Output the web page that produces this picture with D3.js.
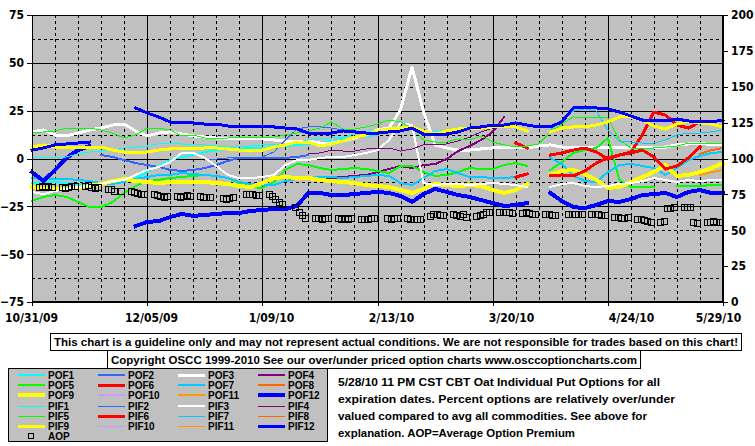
<!DOCTYPE html>
<html><head><meta charset="utf-8">
<script src="https://cdn.jsdelivr.net/npm/d3@7"></script>
<style>
body{margin:0;background:#fff;}
svg text{font-family:"Liberation Sans",Arial,sans-serif;font-weight:bold;fill:#000;}
.ax text{font-family:"Liberation Sans Narrow","DejaVu Sans Condensed","Liberation Sans",sans-serif;font-stretch:condensed;font-size:12px;font-weight:bold;}
</style>
</head><body>
<svg id="c" width="755" height="446"></svg>
<script>
const _ = null;
// x categories: half-week grid, days since 10/31/09
const gridDays = d3.range(61).map(i => i * 3.5);
const xTickLabels = ["10/31/09","12/05/09","1/09/10","2/13/10","3/20/10","4/24/10","5/29/10"];
const xTickDays = [0,35,70,105,140,175,210];
const leftTicks = [-75,-50,-25,0,25,50,75];
const rightTicks = [0,25,50,75,100,125,150,175,200];

const POF1 = [-12.8,-12.3,-12.3,-12.8,-13.3,-13.9,-13.3,-12.3,-12.3,-10.2,-7.1,-3.9,-0.8,0.8,1.8,3.4,4.4,5,5,5.5,5.5,6,6.5,7.1,7.6,8.1,9.1,10.2,11.2,11.8,12.3,_,_,_,_,_,_,_,_,_,_,_,_,_,_,_,_,_,_,_,_,_,_,_,_,_,_,_,_,_,_];
const POF2 = [_,_,_,_,_,_,1.8,0.8,-0.8,-2.4,-3.4,-4.4,-6,-6.5,-6,-5,-3.4,-1.3,0.3,0.3,0.3,0.3,0.3,0.8,1.8,_,_,_,_,_,_,_,_,_,_,_,_,_,_,_,_,_,_,_,_,_,_,_,_,_,_,_,_,_,_,_,_,_,_,_,_];
const POF3 = [13.9,14.9,12.3,11.8,13.3,14.9,15.9,17.5,18,14.4,11.8,13.3,13.9,12.8,11.8,11.2,10.7,10.7,10.2,10.2,10.2,9.7,9.1,9.1,9.1,8.1,8.1,9.1,10.7,12.8,14.9,15.9,25.4,47.8,24.3,7.1,5.5,4.4,4.4,5,5.5,5.5,5.5,5.5,6.5,7.1,6,5.5,6,6,5.5,6,6,5.5,5.5,6,7.1,7.6,8.1,7.1,7.1];
const POF4 = [_,_,_,_,_,_,_,_,_,_,_,_,_,_,_,_,_,_,_,_,_,_,_,_,_,-11.2,-10.2,-9.7,-9.1,-8.6,-7.1,-5.5,-3.9,-5,-3.4,-2.9,-0.3,3.9,6.5,9.7,13.9,21.7,_,_,_,_,_,_,_,_,_,_,_,_,_,_,_,_,_,_,_];
const POF5 = [-22.2,-20.1,-19.1,-20.1,-22.7,-25.4,-25.4,-22.7,-18,-14.4,-11.8,-11.2,-10.2,-9.7,-9.1,-8.6,-9.1,-10.2,-12.8,-14.9,-15.4,-12.3,-6,-2.9,-3.4,-5,-6,-5.5,-5,-5.5,-6.5,-7.6,-3.9,-3.9,-7.1,-9.1,-8.6,-7.1,-5,-5.5,-5.5,-3.4,-2.4,-3.9,_,-6,-1.8,2.9,4.4,5.5,10.7,-11.2,-14.9,-14.9,-14.9,_,-14.4,-14.4,-14.4,-13.9,-13.9];
const POF6 = [_,_,_,_,_,_,_,_,_,_,_,_,_,_,_,_,_,_,_,_,_,_,_,_,_,_,_,_,_,_,_,_,_,_,_,_,_,_,_,_,_,_,8.1,5.5,_,1.8,2.9,4.4,5.5,3.4,-0.3,1.8,3.4,12.3,24.3,22.7,17.5,15.9,19.1,19.1,_];
const POF7 = [-10.2,-10.2,-10.7,-10.7,-11.2,-11.8,-12.8,-13.3,-12.3,-10.7,-9.7,-8.6,-8.6,-7.6,-8.1,-8.6,-9.1,-10.2,-12.3,-13.3,-13.9,-13.9,-11.8,-10.7,-10.2,-9.7,-9.7,-10.2,-9.7,-9.1,-8.6,-9.1,-12.8,-13.9,-10.2,-6.5,-5.5,-7.6,-9.7,-9.7,-10.2,-10.2,-9.7,-8.1,_,0.3,-2.9,-9.1,-11.8,-12.3,-7.1,-3.4,-2.9,-3.9,-5,-8.6,-5,-0.8,1.3,2.9,3.4];
const POF8 = [_,_,_,_,_,_,_,_,_,_,_,_,_,_,_,_,_,_,_,_,_,_,_,_,_,_,_,_,_,_,_,_,_,_,_,_,_,_,_,_,_,_,_,_,_,_,_,_,_,_,_,_,_,_,_,_,_,_,2.4,4.4,5.5];
const POF9 = [-14.9,-15.9,-15.9,-15.9,-15.4,-14.4,-13.3,-11.8,-10.7,-11.8,-12.3,-12.8,-12.3,-12.3,-12.3,-12.3,-12.8,-13.3,-14.4,-14.9,-12.8,-10.2,-9.7,-10.2,-10.2,-11.2,-11.8,-12.3,-12.8,-13.9,-14.4,-14.9,-16.5,-18,-15.9,-13.3,-13.9,-14.4,-13.9,-14.4,-16.5,-18,-16.5,-13.3,_,-8.6,-6.5,-6,-8.1,-11.2,-15.4,-14.9,-12.3,-9.7,-7.1,-3.4,-9.1,-8.6,-7.1,-5,-2.4];
const POF10 = [];
const POF11 = [_,_,_,_,_,_,_,_,_,_,_,_,_,_,_,_,_,_,_,_,_,_,_,_,_,_,_,_,_,_,_,_,_,_,_,_,_,_,_,_,_,_,_,_,_,_,_,_,_,_,_,_,_,_,_,_,_,_,-8.6,-7.1,-6];
const POF12 = [-7.1,-11.8,-6,0.3,4.4,6.5,_,_,_,-35.3,-33.2,-32.7,-30.6,-29,-30,-29.5,-29,-28.5,-28.5,-27.4,-26.9,-26.4,-26.4,-24.8,-18,-18,-19.1,-19.1,-18.6,-18,-17.5,-18,-19.6,-22.7,-18.6,-15.9,-17.5,-19.1,-20.1,-21.7,-23.3,-24.8,-24.3,-23.3,_,-18,-22.2,-25.4,-25.9,-24.3,-22.2,-22.7,-21.2,-19.1,-18.6,-18,-20.1,-17.5,-16.5,-18,-18];
const PIF1 = [0.3,0.3,0.3,0.8,2.4,3.4,3.9,4.4,5.5,6,6.5,7.6,8.1,7.6,7.1,7.1,6.5,6.5,6.5,6.5,7.1,7.1,7.6,8.6,9.7,10.7,10.7,11.2,12.8,13.9,14.9,15.9,16.5,15.9,14.4,13.9,14.9,15.9,16.5,16.5,16.5,16.5,15.9,14.4,_,_,_,_,_,_,_,_,_,_,_,_,_,_,_,_,_];
const PIF2 = [_,_,_,_,_,_,_,_,_,_,_,_,_,_,_,-0.8,-0.3,0.3,0.3,0.3,0.8,3.4,9.7,15.4,16.5,16.5,15.9,14.9,14.4,_,_,_,_,_,_,_,_,_,_,_,_,_,_,_,_,_,_,_,_,_,_,_,_,_,_,_,_,_,_,_,_];
const PIF3 = [-17.5,-18.6,-17,-15.9,-14.9,-14.4,-13.3,-11.8,-11.2,-8.6,-6,-4.4,-1.8,2.9,2.9,0.3,-3.9,-8.6,-10.2,-10.2,-9.7,-8.6,-3.4,-0.8,-0.8,0.3,0.8,0.8,1.8,2.9,4.4,9.7,18.6,17.5,-12.8,-13.9,-13.3,-13.3,-13.9,-13.3,-12.8,-13.3,-13.9,-14.9,_,-14.9,-13.3,-12.8,-14.4,-14.9,-14.4,-13.3,-12.8,-11.8,-10.2,-11.2,-12.3,-11.2,-11.8,-11.2,-11.2];
const PIF4 = [_,_,_,_,_,_,_,_,_,_,_,_,_,_,_,_,_,_,_,_,_,_,_,_,2.4,2.9,4.4,3.9,3.9,5,5,5.5,3.9,5,7.1,7.1,7.6,9.1,11.2,13.9,15.9,18,_,_,_,_,_,_,_,_,_,_,_,_,_,_,_,_,_,_,_];
const PIF5 = [13.3,13.9,14.4,15.9,15.4,15.9,14.9,13.3,10.7,12.3,15.9,15.9,14.9,11.8,12.3,10.7,10.2,10.7,11.2,11.2,11.2,11.2,12.3,13.3,14.4,15.9,19.1,15.4,15.4,16.5,18,20.1,19.1,15.9,9.7,8.6,8.6,10.2,9.7,11.8,8.6,7.1,6,6.5,7.6,13.9,18,21.7,21.2,21.2,21.2,9.7,5.5,5,5.5,6,6.5,8.1,8.1,8.1,8.1];
const PIF6 = [_,_,_,_,_,_,_,_,_,_,_,_,_,_,_,_,_,_,_,_,_,_,_,_,_,_,_,_,_,_,_,_,_,_,_,_,_,_,_,_,_,_,-9.7,-8.1,_,-9.1,-8.6,-9.1,-6.5,-2.4,0.3,1.8,2.9,4.4,0.8,-5.5,-3.9,0.3,6,_,_];
const PIF7 = [_,_,_,_,_,_,_,_,_,_,_,_,_,_,_,_,_,_,_,_,_,_,_,_,_,_,_,_,_,_,_,_,_,_,_,_,_,_,_,_,_,_,_,_,_,14.9,20.1,24.8,25.9,24.8,14.9,9.1,8.6,8.1,8.1,9.7,12.3,13.3,13.3,13.9,14.9];
const PIF8 = [];
const PIF9 = [6,7.1,6,5.5,6,6,6,4.4,3.4,2.9,3.4,4.4,5,5,5,5.5,5.5,5,4.4,3.9,4.4,6,7.1,8.6,8.6,6.5,7.6,9.1,11.2,12.3,14.4,15.4,15.9,16.5,14.4,12.8,14.4,15.4,15.9,15.9,16.5,16.5,16.5,14.4,_,13.9,15.9,16.5,16.5,17.5,19.1,21.7,21.7,20.1,17,15.4,18,19.6,18.6,18,16.5];
const PIF10 = [];
const PIF11 = [];
const PIF12 = [4.4,5.5,7.1,7.6,8.1,8.6,_,_,_,26.4,23.8,21.7,19.1,18.6,18.6,18,18,17,16.5,16.5,16.5,16.5,15.9,15.4,13.3,12.8,13.3,14.4,13.9,13.3,13.3,13.9,14.4,15.9,12.8,12.3,12.8,13.9,15.9,16.5,17.5,17.5,18.6,17.5,16.5,16.5,19.1,26.4,26.9,26.4,25.9,24.3,22.2,20.1,19.6,19.6,20.6,19.6,19.1,19.1,20.1];

// AOP (right axis), one row per week Mon..Fri
const AOP = [
 [80,81,80,81,80],[80,79.5,80,80.5,80.5],[81,81.5,80,79.5,80],[79,78.5,77.5,_,77.5],
 [77.5,76.5,76,75.5,75.5],[75,74.5,74,73.5,74],[74,73.5,74,74.5,74],[74,73.5,73,73.5,_],
 [72.5,72,72.5,73,_],[75,75.5,75,74.5,74.5],[75,74,72,70,68],[_,66,63,60.5,58.5],
 [58.5,58.5,58,58.5,58.5],[58.5,58,58.5,58,58.5],[58,57.5,58,58.5,58.5],[_,58.5,58,58.5,58.5],
 [58.5,58,57.5,58,58],[60,61,61,60.5,60.5],[61.5,60.5,60,61,59.5],[60,60.5,61.5,62.5,63],
 [63,63,62.5,63,62],[62,62.5,62,61.5,61.5],[61,61,60.5,60.5,_],[61,61,61,61,61],
 [61.5,61,61,60.5,60.5],[59.5,59,58.5,58.5,59],[58,57.5,57,56.5,56],[56,56.5,65.5,65.5,66],
 [66,66,66.5,55.5,55],[56,56,56.5,56,56]
];

const series = [
 {name:"POF1",data:POF1,color:"#00FFFF",w:2},
 {name:"POF2",data:POF2,color:"#3366FF",w:2},
 {name:"POF3",data:POF3,color:"#FFFFFF",w:3},
 {name:"POF4",data:POF4,color:"#800080",w:2},
 {name:"POF5",data:POF5,color:"#00FF00",w:2},
 {name:"POF6",data:POF6,color:"#FF0000",w:3},
 {name:"POF7",data:POF7,color:"#00CCFF",w:2},
 {name:"POF8",data:POF8,color:"#FF6600",w:2},
 {name:"POF9",data:POF9,color:"#FFFF00",w:4},
 {name:"POF10",data:POF10,color:"#CC99FF",w:2},
 {name:"POF11",data:POF11,color:"#FF9900",w:2},
 {name:"POF12",data:POF12,color:"#0000FF",w:4},
 {name:"PIF1",data:PIF1,color:"#00FFFF",w:1},
 {name:"PIF2",data:PIF2,color:"#3366FF",w:1},
 {name:"PIF3",data:PIF3,color:"#FFFFFF",w:2},
 {name:"PIF4",data:PIF4,color:"#800080",w:1},
 {name:"PIF5",data:PIF5,color:"#00FF00",w:1},
 {name:"PIF6",data:PIF6,color:"#FF0000",w:3},
 {name:"PIF7",data:PIF7,color:"#00CCFF",w:1},
 {name:"PIF8",data:PIF8,color:"#FF6600",w:1},
 {name:"PIF9",data:PIF9,color:"#FFFF00",w:3},
 {name:"PIF10",data:PIF10,color:"#CC99FF",w:1},
 {name:"PIF11",data:PIF11,color:"#FF9900",w:1},
 {name:"PIF12",data:PIF12,color:"#0000FF",w:3}
];

const svg = d3.select("#c");
const L = 32, R = 723, T = 15, B = 302;
const x = d3.scaleLinear().domain([0,210]).range([L,R]);
const yL = d3.scaleLinear().domain([-75,75]).range([B,T]);
const yR = d3.scaleLinear().domain([0,200]).range([B,T]);

svg.append("rect").attr("x",0).attr("y",0).attr("width",755).attr("height",446).attr("fill","#fff");
svg.append("rect").attr("x",L).attr("y",T).attr("width",R-L).attr("height",B-T).attr("fill","#C0C0C0");

// gridlines
const g = svg.append("g").attr("shape-rendering","crispEdges");
d3.range(-62.5,75,12.5).forEach(v=>{
  g.append("line").attr("x1",L).attr("x2",R).attr("y1",Math.round(yL(v))+0.5).attr("y2",Math.round(yL(v))+0.5)
   .attr("stroke","#000").attr("stroke-width",1).attr("stroke-dasharray",(v%25===0)?null:"3,3");
});
d3.range(7,210,7).forEach(d=>{
  g.append("line").attr("y1",T).attr("y2",B).attr("x1",Math.round(x(d))+0.5).attr("x2",Math.round(x(d))+0.5)
   .attr("stroke","#000").attr("stroke-width",1).attr("stroke-dasharray",(d%35===0)?null:"3,3");
});

// series
const line = d3.line().defined(d=>d!=null).x((d,i)=>x(gridDays[i])).y(d=>yL(d));
const lg = svg.append("g").attr("shape-rendering","crispEdges");
series.forEach(s=>{
  if(!s.data.length) return;
  lg.append("path").datum(s.data).attr("d",line).attr("fill","none")
    .attr("stroke",s.color).attr("stroke-width",s.w).attr("stroke-linejoin","round").attr("stroke-linecap","square");
});

// AOP squares
const aopPts = [];
AOP.forEach((wk,k)=>wk.forEach((v,j)=>{ if(v!=null) aopPts.push({d:7*k+2+j, v}); }));
svg.append("g").attr("shape-rendering","crispEdges").selectAll("rect").data(aopPts).join("rect")
  .attr("x",d=>Math.round(x(d.d))-3+0.5).attr("y",d=>Math.round(yR(d.v))-3+0.5)
  .attr("width",6).attr("height",6).attr("fill","none").attr("stroke","#000").attr("stroke-width",1);

// frame
svg.append("rect").attr("x",L+0.5).attr("y",T+0.5).attr("width",R-L-1).attr("height",B-T-1)
  .attr("fill","none").attr("stroke","#000").attr("shape-rendering","crispEdges");

// axes
const ax1 = svg.append("g").attr("class","ax").attr("transform",`translate(${L},0)`)
  .call(d3.axisLeft(yL).tickValues(leftTicks).tickSize(5).tickPadding(3).tickFormat(d3.format("d")));
const ax2 = svg.append("g").attr("class","ax").attr("transform",`translate(${R},0)`)
  .call(d3.axisRight(yR).tickValues(rightTicks).tickSize(5).tickPadding(3).tickFormat(d3.format("d")));
const xlab = d3.scalePoint().domain(xTickLabels).range([31,751]);
const ax3 = svg.append("g").attr("class","ax").attr("transform",`translate(0,${B})`)
  .call(d3.axisBottom(x).tickValues(xTickDays).tickSize(4).tickPadding(7).tickFormat((d,i)=>xTickLabels[i]));
ax3.selectAll(".tick text").attr("x",function(d,i){ return Math.min(xlab(xTickLabels[i]),718) - x(d); });
[ax1,ax2,ax3].forEach(a=>{ a.select(".domain").attr("stroke","#000"); a.selectAll("line").attr("stroke","#000").attr("shape-rendering","crispEdges"); });

// disclaimer boxes
function box(x0,y0,w,h,txt,tl){
  svg.append("rect").attr("x",x0+0.5).attr("y",y0+0.5).attr("width",w).attr("height",h).attr("fill","#fff").attr("stroke","#000").attr("shape-rendering","crispEdges");
  svg.append("text").attr("x",x0+4).attr("y",y0+h-4).attr("font-size",11).attr("textLength",tl).attr("lengthAdjust","spacingAndGlyphs").text(txt);
}
box(50,333,691,17,"This chart is a guideline only and may not represent actual conditions. We are not responsible for trades based on this chart!",684);
box(107,350,533,18,"Copyright OSCC 1999-2010 See our over/under priced option charts www.osccoptioncharts.com",526);

// legend
svg.append("rect").attr("x",8.5).attr("y",368.5).attr("width",319).attr("height",73).attr("fill","#C0C0C0").attr("stroke","#000").attr("shape-rendering","crispEdges");
const colX = [18,98,178,258], rowY = [375,385,395,406,416,426,436];
series.forEach((s,i)=>{
  const r = Math.floor(i/4), c = i%4;
  const lx = colX[c], ly = rowY[r];
  svg.append("line").attr("x1",lx).attr("x2",lx+27).attr("y1",ly).attr("y2",ly).attr("stroke",s.color).attr("stroke-width",s.w).attr("shape-rendering","crispEdges");
  svg.append("text").attr("x",lx+30).attr("y",ly+4).attr("font-size",10).text(s.name);
});
svg.append("rect").attr("x",28.5).attr("y",433.5).attr("width",5).attr("height",5).attr("fill","none").attr("stroke","#000").attr("shape-rendering","crispEdges");
svg.append("text").attr("x",48).attr("y",440).attr("font-size",10).text("AOP");

// description
const desc = [
 ["5/28/10 11 PM CST CBT Oat Individual Put Options for all",322],
 ["expiration dates. Percent options are relatively over/under",337],
 ["valued compared to avg all commodities. See above for",309],
 ["explanation. AOP=Average Option Premium",237]
];
desc.forEach((d,i)=>{
  svg.append("text").attr("x",338).attr("y",386+i*17).attr("font-size",11).attr("textLength",d[1]).attr("lengthAdjust","spacingAndGlyphs").text(d[0]);
});
</script>
</body></html>
